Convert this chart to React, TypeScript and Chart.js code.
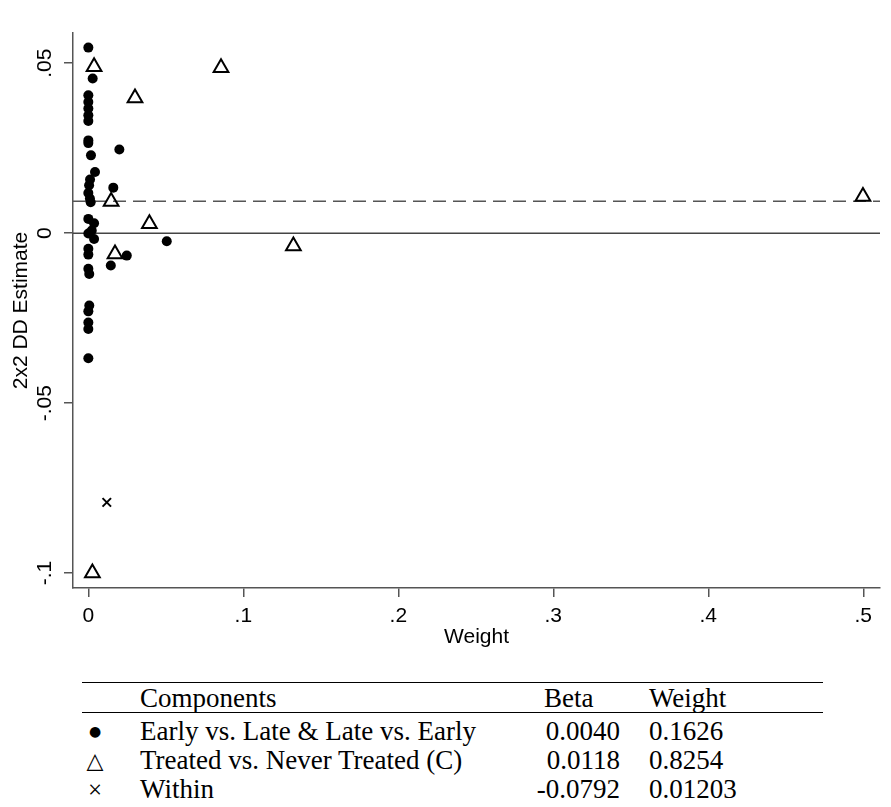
import React, { useEffect, useRef } from "react";
import { Chart, registerables } from "chart.js";

Chart.register(...registerables);

// ---- Data ----
const EARLY_LATE_X = [
  0, 0.0028, 0, 0, 0, 0, 0, 0, 0, 0.02, 0.0017, 0.0043, 0.0011, 0.0005, 0, 0.001, 0.0015, 0.0161,
  0, 0.0037, 0.0022, 0, 0.0037, 0.0506, 0, 0, 0.0248, 0.0145, 0, 0.0006, 0.0006, 0, 0, 0, 0,
];
const EARLY_LATE_Y = [
  0.0546, 0.0455, 0.0406, 0.0386, 0.0367, 0.0347, 0.033, 0.0273, 0.0265, 0.0246, 0.0229, 0.018,
  0.0158, 0.0141, 0.0118, 0.0102, 0.0091, 0.0134, 0.0042, 0.0029, 0.0008, -0.0001, -0.0017,
  -0.0024, -0.0046, -0.0063, -0.0066, -0.0095, -0.0105, -0.012, -0.0213, -0.023, -0.0263, -0.0282,
  -0.0368,
];
const TREATED_NEVER_X = [0.0037, 0.0856, 0.0301, 0.0147, 0.0394, 0.0172, 0.1323, 0.4998, 0.0026];
const TREATED_NEVER_Y = [0.049, 0.0487, 0.0398, 0.0093, 0.0028, -0.0061, -0.0038, 0.0108, -0.1];
const WITHIN_X = [0.0119];
const WITHIN_Y = [-0.0792];

const OVERALL_DD = 0.0094;
const ZERO_LINE = 0;

const X_RANGE = [-0.0099, 0.5108];
const Y_RANGE = [-0.1044, 0.0589];
const X_TICKS = [0, 0.1, 0.2, 0.3, 0.4, 0.5];
const X_TICK_LABELS = ["0", ".1", ".2", ".3", ".4", ".5"];
const Y_TICKS = [-0.1, -0.05, 0, 0.05];
const Y_TICK_LABELS = ["-.1", "-.05", "0", ".05"];

const X_TITLE = "Weight";
const Y_TITLE = "2x2 DD Estimate";

// ---- Table ----
const TABLE_HEADERS = ["Components", "Beta", "Weight"];
const TABLE_SYMBOLS = ["●", "△", "×"];
const TABLE_COMPONENTS = [
  "Early vs. Late & Late vs. Early",
  "Treated vs. Never Treated (C)",
  "Within",
];
const TABLE_BETAS = ["0.0040", "0.0118", "-0.0792"];
const TABLE_WEIGHTS = ["0.1626", "0.8254", "0.01203"];

const SANS = "'Liberation Sans', Arial, Helvetica, sans-serif";
const SERIF = "'Liberation Serif', 'Times New Roman', serif";
const AXIS_COLOR = "#555";
const CANVAS_H = 660;

function pts(xs: number[], ys: number[]) {
  return xs.map((x, i) => ({ x, y: ys[i] }));
}

function ChartCanvas() {
  const ref = useRef<HTMLCanvasElement>(null);
  useEffect(() => {
    if (!ref.current) return;
    const chart = new Chart(ref.current, {
      type: "scatter",
      data: {
        datasets: [
          {
            label: TABLE_COMPONENTS[0],
            data: pts(EARLY_LATE_X, EARLY_LATE_Y),
            pointStyle: "circle",
            pointRadius: 5,
            backgroundColor: "#000",
            borderColor: "#000",
            borderWidth: 0,
            order: 1,
          },
          {
            label: TABLE_COMPONENTS[1],
            data: pts(TREATED_NEVER_X, TREATED_NEVER_Y),
            pointStyle: "triangle",
            pointRadius: 8.5,
            backgroundColor: "rgba(0,0,0,0)",
            borderColor: "#000",
            borderWidth: 2,
            order: 1,
          },
          {
            label: TABLE_COMPONENTS[2],
            data: pts(WITHIN_X, WITHIN_Y),
            pointStyle: "crossRot",
            pointRadius: 6,
            backgroundColor: "#000",
            borderColor: "#000",
            borderWidth: 2,
            order: 1,
          },
          {
            type: "line",
            label: "zero",
            data: [
              { x: X_RANGE[0], y: ZERO_LINE },
              { x: X_RANGE[1], y: ZERO_LINE },
            ],
            borderColor: "#444",
            borderWidth: 1.5,
            pointRadius: 0,
            showLine: true,
            order: 5,
          } as any,
          {
            type: "line",
            label: "overall",
            data: [
              { x: X_RANGE[0], y: OVERALL_DD },
              { x: X_RANGE[1], y: OVERALL_DD },
            ],
            borderColor: "#555",
            borderWidth: 1.5,
            borderDash: [13, 7],
            pointRadius: 0,
            showLine: true,
            order: 5,
          } as any,
        ],
      },
      options: {
        animation: false,
        responsive: false,
        maintainAspectRatio: false,
        plugins: { legend: { display: false }, tooltip: { enabled: false } },
        layout: { padding: { top: 33, right: 11, left: 0, bottom: 0 } },
        scales: {
          x: {
            type: "linear",
            min: X_RANGE[0],
            max: X_RANGE[1],
            afterBuildTicks: (s: any) => {
              s.ticks = X_TICKS.map((v) => ({ value: v }));
            },
            afterFit: (s: any) => {
              s.height = CANVAS_H - 588;
            },
            ticks: {
              autoSkip: false,
              maxRotation: 0,
              padding: 7,
              color: "#000",
              font: { family: SANS, size: 21 },
              callback: (v: any) => {
                const i = X_TICKS.indexOf(Number(v));
                return i >= 0 ? X_TICK_LABELS[i] : "";
              },
            },
            grid: {
              drawOnChartArea: false,
              drawTicks: true,
              tickLength: 9,
              color: AXIS_COLOR,
              lineWidth: 1.5,
            },
            border: { display: true, color: AXIS_COLOR, width: 1.5 },
            title: {
              display: true,
              text: X_TITLE,
              color: "#000",
              font: { family: SANS, size: 21 },
              padding: { top: 0, bottom: 10 },
            },
          },
          y: {
            type: "linear",
            min: Y_RANGE[0],
            max: Y_RANGE[1],
            afterBuildTicks: (s: any) => {
              s.ticks = Y_TICKS.map((v) => ({ value: v }));
            },
            afterFit: (s: any) => {
              s.width = 73;
            },
            ticks: {
              autoSkip: false,
              minRotation: 90,
              maxRotation: 90,
              crossAlign: "center",
              padding: 1,
              color: "#000",
              font: { family: SANS, size: 21 },
              callback: (v: any) => {
                const i = Y_TICKS.indexOf(Number(v));
                return i >= 0 ? Y_TICK_LABELS[i] : "";
              },
            },
            grid: {
              drawOnChartArea: false,
              drawTicks: true,
              tickLength: 9,
              color: AXIS_COLOR,
              lineWidth: 1.5,
            },
            border: { display: true, color: AXIS_COLOR, width: 1.5 },
            title: {
              display: true,
              text: Y_TITLE,
              color: "#000",
              font: { family: SANS, size: 21 },
              padding: { top: 9, bottom: 0 },
            },
          },
        },
      } as any,
    });
    return () => chart.destroy();
  }, []);
  return (
    <canvas
      ref={ref}
      width={891}
      height={CANVAS_H}
      style={{ position: "absolute", left: 0, top: 0, width: 891, height: CANVAS_H, display: "block" }}
    />
  );
}

function Table() {
  const cell = (text: string, left: number, top: number, extra: any = {}) => (
    <div
      style={{
        position: "absolute",
        left,
        top,
        height: 29,
        lineHeight: "29px",
        fontFamily: SERIF,
        fontSize: 27,
        color: "#000",
        whiteSpace: "nowrap",
        ...extra,
      }}
    >
      {text}
    </div>
  );
  const rowTops = [716.5, 745.5, 774.5];
  return (
    <>
      <div style={{ position: "absolute", left: 82, top: 682, width: 741, height: 0, borderTop: "1.5px solid #000" }} />
      {cell(TABLE_HEADERS[0], 140, 684)}
      {cell(TABLE_HEADERS[1], 544, 684)}
      {cell(TABLE_HEADERS[2], 649, 684)}
      <div style={{ position: "absolute", left: 82, top: 712, width: 741, height: 0, borderTop: "1.5px solid #000" }} />
      {TABLE_COMPONENTS.map((c, i) => (
        <React.Fragment key={c}>
          {cell(TABLE_SYMBOLS[i], 77, rowTops[i], {
            width: 36,
            textAlign: "center",
            fontSize: i === 0 ? 14 : i === 1 ? 22 : 25,
            fontFamily: i === 2 ? SERIF : "'DejaVu Sans', sans-serif",
          })}
          {cell(c, 140, rowTops[i])}
          {cell(TABLE_BETAS[i], 520, rowTops[i], { width: 100, textAlign: "right" })}
          {cell(TABLE_WEIGHTS[i], 649, rowTops[i])}
        </React.Fragment>
      ))}
    </>
  );
}

export default function App() {
  return (
    <div style={{ position: "absolute", left: 0, top: 0, width: 891, height: 807, background: "#fff" }}>
      <ChartCanvas />
      <Table />
    </div>
  );
}
